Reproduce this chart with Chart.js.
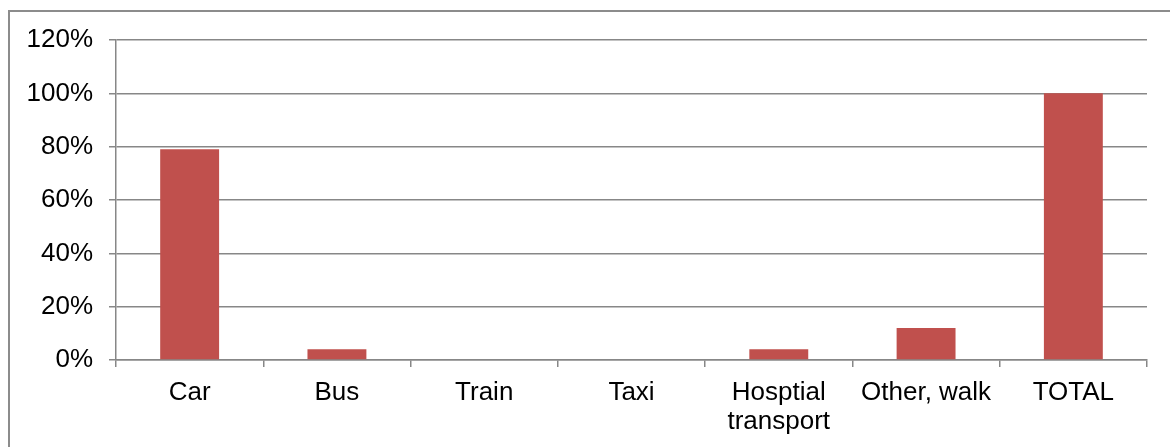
<!DOCTYPE html>
<html>
<head>
<meta charset="utf-8">
<script src="https://cdn.jsdelivr.net/npm/chart.js@4/dist/chart.umd.min.js"></script>
<style>
  html,body{margin:0;padding:0;background:#fff;}
  #wrap{position:relative;width:1170px;height:447px;overflow:hidden;}
  #frame{position:absolute;left:8px;top:10px;width:1200px;height:500px;border:2px solid #8c8c8c;box-sizing:border-box;}
  canvas{position:absolute;left:0;top:0;}
</style>
</head>
<body>
<div id="wrap">
  <div id="frame"></div>
  <canvas id="chart" width="1170" height="447"></canvas>
</div>
<script>
// transport modes, share of patients (%)
const categories = ['Car', 'Bus', 'Train', 'Taxi', ['Hosptial', 'transport'], 'Other, walk', 'TOTAL'];
const shares = [79, 4, 0, 0, 4, 12, 100];
const yTicks = [0, 20, 40, 60, 80, 100, 120];

const gridGray = '#878787';
const font = { family: '"Liberation Sans", Arial, sans-serif', size: 26, lineHeight: 1.12 };

new Chart(document.getElementById('chart'), {
  type: 'bar',
  data: {
    labels: categories,
    datasets: [{ data: shares, backgroundColor: '#C0504D', borderWidth: 0, categoryPercentage: 1, barPercentage: 0.4 }]
  },
  options: {
    responsive: false,
    animation: false,
    layout: { padding: { left: 0, right: 23, top: 40, bottom: 0 } },
    plugins: { legend: { display: false }, tooltip: { enabled: false } },
    scales: {
      x: {
        grid: { drawOnChartArea: false, drawTicks: true, tickLength: 7, color: gridGray, lineWidth: 1.5 },
        border: { color: gridGray, width: 1.5 },
        ticks: { color: '#000', font, padding: 11, maxRotation: 0, autoSkip: false },
        afterFit: s => { s.height = 87; }
      },
      y: {
        min: 0, max: 120,
        afterBuildTicks: s => { s.ticks = yTicks.map(v => ({ value: v })); },
        grid: { color: gridGray, lineWidth: 1.5, tickLength: 7 },
        border: { color: gridGray, width: 1.5 },
        ticks: { color: '#000', font, padding: 16, callback: v => v + '%' },
        afterFit: s => { s.width = 116; }
      }
    }
  }
});
</script>
</body>
</html>
